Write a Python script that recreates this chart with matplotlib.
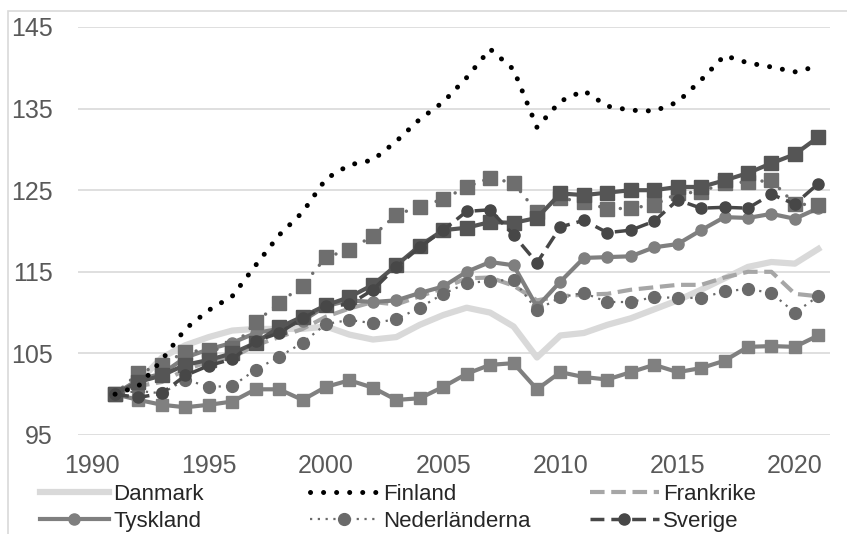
import numpy as np
import matplotlib
matplotlib.use('Agg')
from matplotlib import pyplot as plt
from matplotlib.lines import Line2D
from matplotlib.patches import Rectangle

plt.rcParams['font.family'] = ['Liberation Sans', 'DejaVu Sans']

years = list(range(1991, 2022))

danmark = [100, 101.5, 104.5, 106, 107, 107.8, 108, 108, 108, 108.3,
           107.3, 106.7, 107, 108.5, 109.7, 110.6, 110, 108.3, 104.5, 107.2,
           107.5, 108.5, 109.3, 110.4, 111.5, 112.8, 114.2, 115.6, 116.2, 116, 117.8]
finland = [100, 101, 104.2, 108, 110.3, 112, 115.8, 119.5, 122.3, 126.4,
           128.1, 128.7, 131, 133.7, 135.8, 138.8, 142.3, 139.8, 132.7, 135.9,
           137.2, 135.3, 134.8, 134.7, 135.8, 138.5, 141.5, 140.6, 140.1, 139.5, 140.2]
frankrike = [100, 101, 101.5, 103, 104, 104.5, 106, 107, 108, 109.5,
             110.5, 111.3, 111, 112, 113, 114.2, 114.3, 113.3, 111.5, 112,
             112.2, 112.3, 112.8, 113.1, 113.4, 113.4, 114.3, 115, 115, 112.3, 112]
tyskland = [100, 101.8, 102.5, 104.5, 105.5, 106.3, 107.5, 108, 109, 110.8,
            111.5, 111.3, 111.5, 112.4, 113.2, 115, 116.2, 115.8, 110.7, 113.8,
            116.7, 116.8, 116.9, 118, 118.4, 120.1, 121.7, 121.6, 122.1, 121.5, 122.8]
nederlanderna = [100, 100.4, 100.1, 101.8, 100.9, 101, 103, 104.6, 106.3, 108.6,
                 109.1, 108.7, 109.2, 110.6, 112.3, 113.6, 113.9, 114, 110.3, 111.9,
                 112.4, 111.3, 111.3, 111.9, 111.8, 111.8, 112.6, 112.9, 112.4, 110, 112]
sverige = [100, 99.6, 100.1, 102.3, 103.5, 104.3, 106.5, 107.5, 109.3, 110.8,
           111, 112.8, 115.6, 118, 120.1, 122.4, 122.6, 119.5, 116.1, 120.5,
           121.3, 119.8, 120.1, 121.2, 123.8, 122.8, 122.9, 122.8, 124.5, 123.3, 125.8]
# further series in the chart (their legend rows are cut off below)
sq_low = [100, 99.3, 98.7, 98.4, 98.7, 99.1, 100.6, 100.6, 99.3, 100.9,
          101.7, 100.8, 99.3, 99.5, 100.9, 102.5, 103.6, 103.8, 100.6, 102.7,
          102.1, 101.8, 102.7, 103.6, 102.7, 103.2, 104.1, 105.8, 105.9, 105.8, 107.2]
sq_dotted = [100, 102.6, 103.6, 105.2, 105.4, 105.7, 108.8, 111.2, 113.3, 116.8,
             117.7, 119.4, 122, 123, 123.9, 125.4, 126.5, 125.9, 122.3, 124,
             123.6, 122.7, 122.8, 123.2, 124.6, 124.8, 125.9, 126, 126.2, 123.3, 123.2]
sq_solid = [100, 101.5, 102.3, 103.6, 104.2, 105, 106.3, 108.2, 109.5, 110.9,
            111.9, 113.4, 115.8, 118.2, 120.1, 120.4, 121.1, 121, 121.6, 124.6,
            124.4, 124.7, 125, 125, 125.4, 125.4, 126.2, 127.1, 128.3, 129.4, 131.5]

W, H = 847, 534
fig = plt.figure(figsize=(W / 100, H / 100), dpi=100)
fig.patch.set_facecolor('white')
fig.patches.append(Rectangle((8 / W, -0.1), 1.2, 1 - 11 / H + 0.1, transform=fig.transFigure,
                             fill=False, edgecolor='#d9d9d9', lw=1.2))

ax = fig.add_axes([78 / W, 1 - 435 / H, (830 - 78) / W, (435 - 27) / H])
ax.set_facecolor('none')

ax.plot(years, danmark, color='#d9d9d9', lw=4.5, solid_joinstyle='round', zorder=2)
ax.plot(years, finland, color='black', lw=3.6, linestyle=(0, (0.01, 2.6)),
        dash_capstyle='round', zorder=6)
ax.plot(years, frankrike, color='#a6a6a6', lw=3, linestyle=(0, (3.5, 1.6)), zorder=3)
ax.plot(years, tyskland, color='#7f7f7f', lw=3, marker='o', ms=8, zorder=4)
ax.plot(years, nederlanderna, color='#6a6a6a', lw=1.6, linestyle=(0, (1, 2.5)),
        marker='o', ms=8.5, zorder=4)
ax.plot(years, sverige, color='#474747', lw=2.5, linestyle=(0, (4, 2)),
        marker='o', ms=8, zorder=5)
ax.plot(years, sq_low, color='#808080', lw=3, marker='s', ms=9, zorder=4)
ax.plot(years, sq_dotted, color='#6e6e6e', lw=2.5, linestyle=(0, (0.01, 3)),
        dash_capstyle='round', marker='s', ms=9.5, zorder=4)
ax.plot(years, sq_solid, color='#555555', lw=3, marker='s', ms=9.5, zorder=4)

ax.set_xlim(1989.42, 2021.5)
ax.set_ylim(95, 145)
ax.set_yticks(np.arange(95, 146, 10))
ax.set_xticks(np.arange(1990, 2021, 5))
ax.grid(axis='y', color='#d9d9d9', lw=1.2)
ax.set_axisbelow(True)
for s in ax.spines.values():
    s.set_visible(False)
ax.tick_params(axis='both', length=0, labelsize=18, labelcolor='#595959')
ax.tick_params(axis='y', pad=18)
ax.tick_params(axis='x', pad=14)
for lbl in ax.get_yticklabels():
    lbl.set_horizontalalignment('right')

# legend, three columns placed separately
cols = [
    [('Danmark', dict(color='#d9d9d9', lw=4.5)),
     ('Tyskland', dict(color='#7f7f7f', lw=3, marker='o', ms=8))],
    [('Finland', dict(color='black', lw=3.6, linestyle=(0, (0.01, 2.6)), dash_capstyle='round')),
     ('Nederländerna', dict(color='#6a6a6a', lw=1.6, linestyle=(0, (1, 2.5)), marker='o', ms=8.5))],
    [('Frankrike', dict(color='#a6a6a6', lw=3, linestyle=(0, (3.5, 1.6)))),
     ('Sverige', dict(color='#474747', lw=2.5, linestyle=(0, (4, 2)), marker='o', ms=8))],
]
col_x = [40, 310, 590]
for x0, entries in zip(col_x, cols):
    handles = [Line2D([], [], **kw) for _, kw in entries]
    labels = [name for name, _ in entries]
    leg = fig.legend(handles, labels, loc='upper left', bbox_to_anchor=(x0 / W, 1 - 484 / H),
                     frameon=False, fontsize=16, handlelength=3.1, handletextpad=0.2,
                     labelspacing=0.25, numpoints=1, borderaxespad=0, borderpad=0)
    for t in leg.get_texts():
        t.set_color('#262626')

fig.savefig('out.png', dpi=100)
